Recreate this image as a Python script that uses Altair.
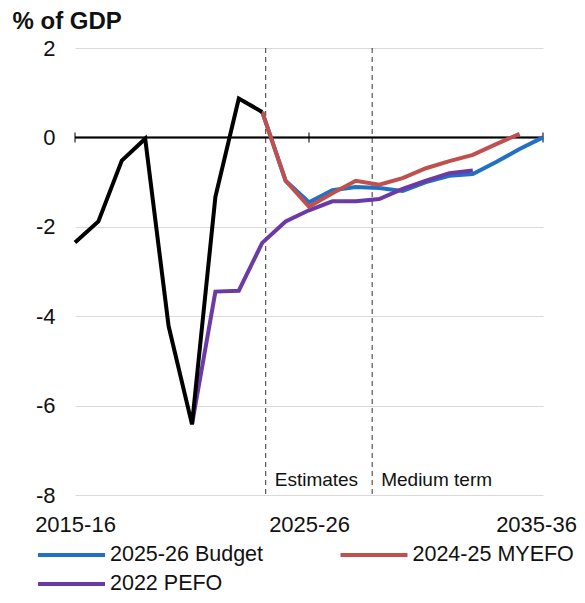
import altair as alt
import pandas as pd

# ---------------- data ----------------
years = ["2015-16", "2016-17", "2017-18", "2018-19", "2019-20", "2020-21",
         "2021-22", "2022-23", "2023-24", "2024-25", "2025-26", "2026-27",
         "2027-28", "2028-29", "2029-30", "2030-31", "2031-32", "2032-33",
         "2033-34", "2034-35", "2035-36"]

actual_start = "2015-16"
actual = [-2.35, -1.88, -0.52, -0.03, -4.22, -6.42, -1.33, 0.87, 0.57]

budget_start = "2023-24"
budget = [0.57, -0.97, -1.45, -1.18, -1.11, -1.13, -1.20, -1.00, -0.86,
          -0.82, -0.55, -0.26, 0.00]

myefo_start = "2023-24"
myefo = [0.57, -0.97, -1.55, -1.25, -0.97, -1.06, -0.91, -0.69, -0.53,
         -0.39, -0.15, 0.08]

pefo_start = "2020-21"
pefo = [-6.42, -3.45, -3.43, -2.36, -1.88, -1.63, -1.43, -1.43, -1.38,
        -1.15, -0.97, -0.80, -0.74]

series_names = ["2025-26 Budget", "2024-25 MYEFO", "2022 PEFO"]
series_colors = ["#2170c6", "#c0504d", "#6c3aa5"]

label_years = ["2015-16", "2025-26", "2035-36"]
phase_names = ["Estimates", "Medium term"]
phase_bounds = [8.15, 12.7]   # in year-index units
y_ticks = [-8, -6, -4, -2, 0, 2]


def rows(name, start, vals):
    s = years.index(start)
    return [{"series": name, "idx": s + i, "value": v} for i, v in enumerate(vals)]


df_actual = pd.DataFrame(rows("Actual", actual_start, actual))
df_fc = pd.DataFrame(rows(series_names[0], budget_start, budget)
                     + rows(series_names[1], myefo_start, myefo)
                     + rows(series_names[2], pefo_start, pefo))
df_ticks = pd.DataFrame({"idx": [years.index(y) for y in label_years]})
df_phase = pd.DataFrame({"pos": phase_bounds, "name": phase_names})

FONT = "Liberation Sans"
last = len(years) - 1
label_arr = "[" + ",".join("'%s'" % y for y in years) + "]"

x_scale = alt.Scale(domain=[0, last], nice=False, zero=False)
x_enc = alt.X("idx:Q", scale=x_scale,
              axis=alt.Axis(values=[years.index(y) for y in label_years],
                            labelExpr=label_arr + "[datum.value]",
                            labelFlush=False,
                            labelOffset=alt.ExprRef(expr="datum.value == %d ? -7 : 0" % last),
                            title=None, grid=False, domain=False, ticks=False,
                            labelPadding=19, labelFontSize=22, labelColor="#111",
                            labelFont=FONT))
y_scale = alt.Scale(domain=[-8, 2], nice=False)
y_axis = alt.Axis(values=y_ticks, labelExpr="'' + datum.value",
                  title="% of GDP", titleAngle=0, titleAlign="left",
                  titleBaseline="alphabetic", titleX=-63, titleY=-20,
                  titleFontSize=24, titleFontWeight="bold", titleColor="#111",
                  titleFont=FONT,
                  grid=True, gridColor="#d9d9d9", gridWidth=1,
                  domain=False, ticks=False, labelPadding=20,
                  labelFontSize=22, labelColor="#111", labelFont=FONT)

color = alt.Color("series:N",
                  scale=alt.Scale(domain=series_names, range=series_colors),
                  legend=alt.Legend(orient="none", legendX=-39, legendY=494,
                                    direction="horizontal",
                                    columns=2, columnPadding=74.5, rowPadding=3,
                                    clipHeight=26, symbolType="stroke",
                                    symbolSize=4489, symbolStrokeWidth=4,
                                    labelFontSize=21.5, labelOffset=3,
                                    labelLimit=300, labelColor="#111",
                                    labelFont=FONT, title=None, padding=0))

grid_layer = alt.Chart(df_actual).mark_line(opacity=0).encode(
    x=x_enc, y=alt.Y("value:Q", scale=y_scale, axis=y_axis))

phase_rules = alt.Chart(df_phase).mark_rule(
    color="#333333", strokeWidth=1, strokeDash=[5, 4]
).encode(x=alt.X("pos:Q"))

zero_rule = alt.Chart(df_ticks).mark_rule(color="black", strokeWidth=1.5).encode(
    y=alt.datum(0))

zero_ticks = alt.Chart(df_ticks).mark_tick(
    orient="vertical", size=10, thickness=1.5, color="black"
).encode(x=alt.X("idx:Q"), y=alt.datum(0))

phase_text = alt.Chart(df_phase).mark_text(
    align="left", baseline="middle", dx=9, dy=-15, fontSize=19,
    font=FONT, color="#111"
).encode(x=alt.X("pos:Q"), y=alt.datum(-8), text="name:N")


def fc_line(name):
    return alt.Chart(df_fc).transform_filter(
        alt.datum.series == name
    ).mark_line(strokeWidth=4).encode(
        x=alt.X("idx:Q"), y=alt.Y("value:Q"), color=color)


actual_line = alt.Chart(df_actual).mark_line(color="black", strokeWidth=4).encode(
    x=alt.X("idx:Q"), y=alt.Y("value:Q"))

chart = alt.layer(
    grid_layer, phase_rules, zero_rule, zero_ticks, phase_text,
    fc_line(series_names[0]), fc_line(series_names[2]), fc_line(series_names[1]),
    actual_line
).properties(
    width=468, height=447,
    autosize=alt.AutoSizeParams(type="none"),
    padding={"left": 67, "top": 40, "right": 34, "bottom": 100},
).configure(font=FONT).configure_view(stroke=None)

chart.save("out.html", embed_options={"renderer": "svg", "actions": False})
